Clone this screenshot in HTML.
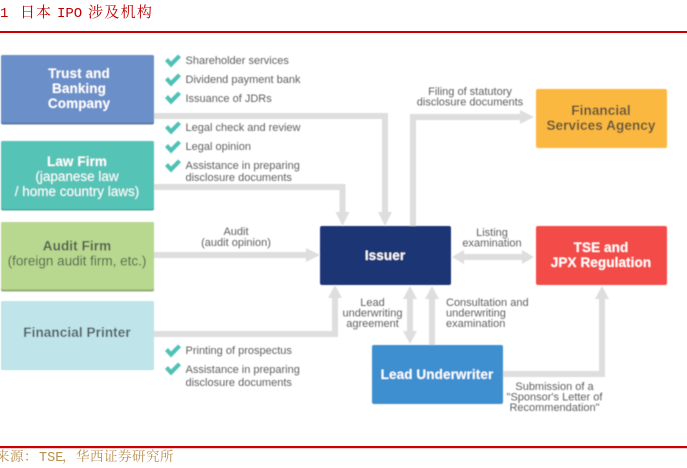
<!DOCTYPE html>
<html><head><meta charset="utf-8">
<style>
html,body{margin:0;padding:0;background:#fff}
svg{display:block}
text{font-family:"Liberation Sans",sans-serif}
.b{font-weight:bold;font-size:13.5px;text-anchor:middle;letter-spacing:.1px}
.n{font-size:13.5px;text-anchor:middle}
.s{font-size:11px;fill:#606060}
.c{font-size:11px;fill:#606060;text-anchor:middle}
.h{font-family:"Liberation Mono","Noto Serif CJK SC",monospace !important}
</style></head><body>
<svg width="687" height="468" viewBox="0 0 687 468" xmlns="http://www.w3.org/2000/svg">
<defs>
<filter id="f" x="-5%" y="-5%" width="110%" height="110%"><feGaussianBlur stdDeviation="0.4"/></filter>
<path id="k" d="M0 6.500 L3 3.500 L6 7 L13 0 L16 2.800 L6 13 Z" fill="#4fc1b5"/>
</defs>
<rect width="687" height="468" fill="#fff"/>
<g fill="#c00000">
<text class="h" x="0" y="17" font-size="14">1</text>
<text class="h" x="20" y="17" font-size="15" letter-spacing="1">日本</text>
<text class="h" x="57" y="17" font-size="14">IPO</text>
<text class="h" x="88" y="17" font-size="15" letter-spacing="1.300">涉及机构</text>
</g>
<rect x="0" y="31" width="687" height="2" fill="#cc0000"/>
<rect x="0" y="446" width="687" height="2.200" fill="#cc0000"/>
<g fill="#b8904f">
<text class="h" x="-4" y="461" font-size="13.500" letter-spacing=".5">来源：</text>
<text class="h" x="39" y="461" font-size="13.500">TSE</text>
<text class="h" x="62" y="461" font-size="13.500" letter-spacing=".5">，华西证券研究所</text>
</g>

<g filter="url(#f)">
<!-- connectors -->
<g fill="none" stroke="#dedede" stroke-width="6">
<path d="M154 116 H385 V214"/>
<path d="M154 187 H342.500 V214"/>
<path d="M154 255 H309"/>
<path d="M154 334 H335 V297"/>
<path d="M413 226 V117 H522"/>
<path d="M463 257 H524"/>
<path d="M410 298 V333"/>
<path d="M432 345 V297"/>
<path d="M503 374 H602 V297"/>
</g>
<g fill="#dedede">
<path d="M378 212 H392 L385 226 Z"/>
<path d="M335.500 212 H349.500 L342.500 226 Z"/>
<path d="M306 248 L320 255 L306 262 Z"/>
<path d="M328 298 H342 L335 285 Z"/>
<path d="M520 110 L534 117 L520 124 Z"/>
<path d="M464 250 L452 257 L464 264 Z"/>
<path d="M522 250 L534 257 L522 264 Z"/>
<path d="M403 299 H417 L410 286 Z"/>
<path d="M403 331 H417 L410 344 Z"/>
<path d="M425 299 H439 L432 286 Z"/>
<path d="M595 299 H609 L602 286 Z"/>
</g>

<!-- boxes -->
<rect x="1" y="55" width="153" height="69.500" rx="2" fill="#5c7aa8"/>
<rect x="1" y="55" width="153" height="67.500" rx="2" fill="#6a8fc9"/>
<rect x="1" y="141" width="153" height="69.500" rx="2" fill="#48a89d"/>
<rect x="1" y="141" width="153" height="68" rx="2" fill="#57c3b7"/>
<rect x="1" y="222" width="153" height="69.500" rx="2" fill="#93ad75"/>
<rect x="1" y="222" width="153" height="67.500" rx="2" fill="#b7d88e"/>
<rect x="1" y="301" width="153" height="69" rx="2" fill="#aedde2"/>
<rect x="1" y="301" width="153" height="68" rx="2" fill="#bfe5ea"/>
<rect x="320" y="226" width="131" height="59" rx="2" fill="#1b3675"/>
<rect x="536" y="89" width="131" height="59" rx="2" fill="#fbb83f"/>
<rect x="536" y="226" width="131" height="59" rx="2" fill="#f34c47"/>
<rect x="372" y="345" width="131" height="59" rx="2" fill="#3d8fcf"/>

<!-- box labels -->
<g fill="#fff">
<text class="b" x="79" y="78">Trust and</text>
<text class="b" x="79" y="93">Banking</text>
<text class="b" x="79" y="108">Company</text>
<text class="b" x="77" y="166">Law Firm</text>
<text class="n" x="77" y="181">(japanese law</text>
<text class="n" x="77" y="196">/ home country laws)</text>
<text class="b" x="385" y="260">Issuer</text>
<text class="b" x="601" y="252">TSE and</text>
<text class="b" x="601" y="267">JPX Regulation</text>
<text class="b" x="437" y="379">Lead Underwriter</text>
</g>
<g fill="#535e50">
<text class="b" x="77" y="250.500">Audit Firm</text>
<text class="n" x="77" y="265.500">(foreign audit firm, etc.)</text>
</g>
<text class="b" x="77" y="337" fill="#525e63">Financial Printer</text>
<text class="b" x="601" y="115" fill="#5f543d">Financial</text>
<text class="b" x="601" y="130" fill="#5f543d">Services Agency</text>

<!-- check items -->
<use href="#k" x="165" y="54.500"/>
<use href="#k" x="165" y="73.500"/>
<use href="#k" x="165" y="91.500"/>
<use href="#k" x="165" y="121.500"/>
<use href="#k" x="165" y="140.500"/>
<use href="#k" x="165" y="159.500"/>
<use href="#k" x="165" y="344.500"/>
<use href="#k" x="165" y="362.500"/>
<text class="s" x="185.500" y="64">Shareholder services</text>
<text class="s" x="185.500" y="83">Dividend payment bank</text>
<text class="s" x="185.500" y="102">Issuance of JDRs</text>
<text class="s" x="185.500" y="131">Legal check and review</text>
<text class="s" x="185.500" y="150">Legal opinion</text>
<text class="s" x="185.500" y="169">Assistance in preparing</text>
<text class="s" x="185.500" y="181">disclosure documents</text>
<text class="s" x="185.500" y="354">Printing of prospectus</text>
<text class="s" x="185.500" y="373">Assistance in preparing</text>
<text class="s" x="185.500" y="386">disclosure documents</text>

<!-- connector labels -->
<text class="c" x="236" y="235">Audit</text>
<text class="c" x="236" y="246">(audit opinion)</text>
<text class="c" x="470" y="95">Filing of statutory</text>
<text class="c" x="470" y="105.500">disclosure documents</text>
<text class="c" x="492" y="236">Listing</text>
<text class="c" x="492" y="246.500">examination</text>
<text class="c" x="372.500" y="306">Lead</text>
<text class="c" x="372.500" y="316.500">underwriting</text>
<text class="c" x="372.500" y="327">agreement</text>
<text class="s" x="446" y="306">Consultation and</text>
<text class="s" x="446" y="316.500">underwriting</text>
<text class="s" x="446" y="327">examination</text>
<text class="c" x="554.500" y="390">Submission of a</text>
<text class="c" x="554.500" y="400.500">"Sponsor's Letter of</text>
<text class="c" x="554.500" y="411">Recommendation"</text>
</g>
</svg>
</body></html>
